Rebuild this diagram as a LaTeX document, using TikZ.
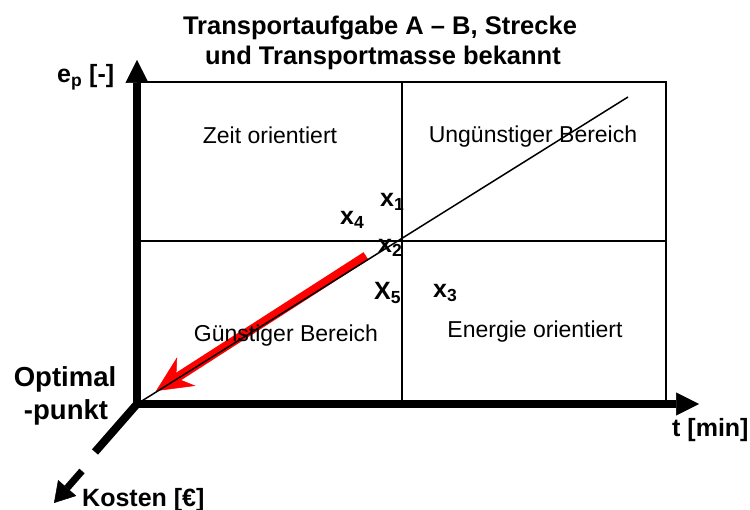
\documentclass[tikz,border=0pt]{standalone}
\usepackage{fontspec}
\setmainfont{Liberation Sans}
\usetikzlibrary{arrows.meta}
\begin{document}
\begin{tikzpicture}[x=1pt,y=-1pt,
  gridline/.style={line width=2pt},
  axisline/.style={line width=8pt},
  axistip/.style={-{Triangle[length=23pt,width=23pt,line width=0.5pt]}},
  lbl/.style={font=\fontsize{23}{27}\selectfont, anchor=base, inner sep=0pt},
  bl/.style={font=\fontsize{25}{30}\selectfont\bfseries, anchor=base west, inner sep=0pt},
  tl/.style={font=\fontsize{25.5}{30}\selectfont\bfseries, anchor=base, inner sep=0pt},
  ol/.style={font=\fontsize{27.5}{32}\selectfont\bfseries, anchor=base, inner sep=0pt},
]
\useasboundingbox (0,0) rectangle (750,510);
% geometry
\coordinate (O) at (137,404);
\coordinate (TL) at (137,82);
\coordinate (TR) at (666,82);
\coordinate (BR) at (666,404);
\coordinate (MT) at (402,82);
\coordinate (MB) at (402,404);
\coordinate (ML) at (137,241);
\coordinate (MR) at (666,241);
\coordinate (Ytip) at (137,60);
\coordinate (Xtip) at (699,404);
\coordinate (Kend) at (95,452);
\coordinate (Kstart) at (82,471);
\coordinate (Ktip) at (54,503);
\coordinate (Dend) at (628,97);
\coordinate (Rstart) at (366,256);
\coordinate (Rtip) at (156,391);
\coordinate (Ostart) at (137,408);
\coordinate (Oleft) at (133,404);
% grid
\draw[gridline] (TL) -- (TR) -- (BR);
\draw[gridline] (MT) -- (MB);
\draw[gridline] (ML) -- (MR);
% red arrow
\draw[red, line width=9pt, -{Stealth[length=36pt,width=34pt,inset=12pt,line width=0.5pt]}] (Rstart) -- (Rtip);
% diagonal
\draw[line width=1.5pt] (O) -- (Dend);
% axes
\draw[axisline, axistip] (Ostart) -- (Ytip);
\draw[axisline, axistip] (Oleft) -- (Xtip);
\draw[axisline] (O) -- (Kend);
\draw[line width=7pt, -{Triangle[length=20pt,width=24pt,line width=0.5pt]}] (Kstart) -- (Ktip);
% title
\node[tl] (title1) at (380,35) {Transportaufgabe A – B, Strecke};
\node[tl] (title2) at (383,65) {und Transportmasse bekannt};
% region labels
\node[lbl] (zeit) at (270,144) {Zeit orientiert};
\node[lbl] (ungue) at (533,143) {Ungünstiger Bereich};
\node[lbl] (guenst) at (286,342) {Günstiger Bereich};
\node[lbl] (energ) at (535,338) {Energie orientiert};
% points
\node[bl] (x1) at (380,207) {x\textsubscript{1}};
\node[bl] (x4) at (340,225) {x\textsubscript{4}};
\node[bl] (x2) at (378,253) {x\textsubscript{2}};
\node[bl] (x5) at (374,300) {X\textsubscript{5}};
\node[bl] (x3) at (433,298) {x\textsubscript{3}};
% axis labels
\node[bl] (ep) at (57,83) {e\textsubscript{p} [-]};
\node[bl] (tmin) at (672,437) {t [min]};
\node[bl] (kosten) at (82,506) {Kosten [€]};
\node[ol] (opt1) at (65,387) {Optimal};
\node[ol] (opt2) at (66,420) {-punkt};
\end{tikzpicture}
\end{document}
